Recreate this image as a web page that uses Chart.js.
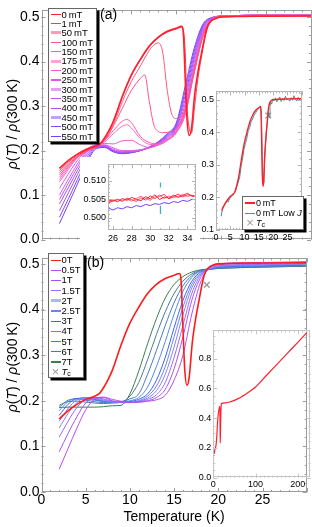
<!DOCTYPE html>
<html>
<head>
<meta charset="utf-8">
<script src="https://cdn.jsdelivr.net/npm/chart.js@4.4.1/dist/chart.umd.min.js"></script>
<style>
  body { margin: 0; background: #fff; font-family: 'Liberation Sans', Arial, sans-serif; }
  #wrap { position: relative; width: 312px; height: 527px; overflow: hidden; }
  canvas { position: absolute; }
  .leg { position: absolute; background: #fff; border: 1px solid #666; box-shadow: 2.5px 2.5px 0 #000; color: #000; box-sizing: border-box; padding-top: 1px; }
  .row { position: relative; white-space: nowrap; }
  .sw { position: absolute; left: 2px; width: 10px; }
  .lbl { position: absolute; color: #000; white-space: nowrap; }
  .ytitle { position: absolute; left: 12px; transform: translate(-50%, -50%) rotate(-90deg); font-size: 14px; white-space: nowrap; }
</style>
</head>
<body>
<div id="wrap"></div>
<script>
const FONT = "'Liberation Sans', Arial, sans-serif";

// ---- panel (a): low fields ----
const tRed = [2, 3, 4, 5, 6, 6.5, 7, 7.5, 8, 9, 10, 11, 12, 13, 14, 15, 15.6, 15.8, 16, 16.2, 16.45, 16.7, 17.05, 17.4, 17.8, 18.4, 18.8, 19.5, 20, 25, 35];
const rho0mT = [.16, .178, .192, .203, .21, .215, .228, .245, .266, .322, .37, .405, .435, .455, .468, .475, .479, .46, .36, .27, .234, .25, .326, .375, .418, .475, .49, .498, .5, .502, .503];
const rho1mT = [.155, .174, .189, .201, .209, .214, .226, .243, .264, .32, .368, .403, .433, .453, .466, .473, .477, .47, .42, .3, .25, .24, .3, .36, .41, .47, .488, .497, .5, .502, .503];
const t50 = [2, 3, 4, 5, 6, 7, 8, 9, 10, 11, 12, 12.5, 13, 13.5, 14, 14.5, 15, 15.5, 16, 17, 18, 19, 20, 25, 30];
const rho50mT = [.15, .17, .186, .198, .207, .223, .258, .31, .355, .39, .425, .437, .442, .42, .335, .282, .272, .275, .295, .375, .458, .494, .502, .504, .504];
const t100 = [2, 3, 4, 5, 6, 7, 8, 9, 10, 11, 11.5, 12, 12.5, 13, 13.5, 14, 15, 16, 17, 18, 19, 20, 25, 30];
const rho100mT = [.145, .168, .186, .199, .208, .222, .255, .295, .335, .362, .37, .31, .258, .243, .24, .241, .25, .29, .38, .46, .495, .502, .504, .504];
const t150 = [2, 3, 4, 5, 6, 7, 8, 9, 9.5, 10, 11, 12, 13, 14, 15, 16, 17, 18, 19, 20, 25, 30];
const rho150mT = [.14, .165, .186, .2, .21, .222, .245, .266, .27, .263, .232, .218, .215, .224, .241, .29, .385, .462, .495, .502, .504, .504];
const rho175mT = [.135, .162, .184, .2, .21, .219, .238, .255, .258, .251, .227, .214, .213, .223, .24, .285, .38, .46, .495, .502, .504, .504];
const tGrid = [2, 3, 4, 5, 6, 7, 8, 9, 10, 11, 12, 13, 14, 15, 16, 17, 18, 19, 20, 25, 30];
const rho200mT = [.13, .158, .185, .203, .213, .216, .215, .222, .223, .213, .207, .212, .223, .24, .28, .375, .46, .495, .502, .504, .504];
const rho250mT = [.115, .148, .178, .2, .212, .213, .206, .2, .2, .202, .206, .214, .226, .243, .285, .38, .464, .496, .502, .504, .504];
const rho300mT = [.1, .136, .17, .198, .211, .212, .203, .198, .198, .201, .206, .215, .228, .246, .295, .39, .468, .497, .502, .504, .504];
const rho350mT = [.09, .127, .163, .195, .21, .211, .201, .197, .198, .201, .207, .216, .23, .249, .305, .398, .472, .497, .502, .504, .504];
const rho400mT = [.08, .117, .155, .19, .209, .21, .2, .196, .197, .2, .207, .217, .232, .252, .315, .407, .476, .498, .502, .504, .504];
const rho450mT = [.065, .105, .146, .184, .207, .209, .199, .195, .196, .2, .207, .218, .234, .255, .325, .415, .479, .498, .502, .504, .504];
const rho500mT = [.05, .092, .135, .177, .205, .208, .198, .194, .196, .2, .208, .219, .236, .258, .335, .423, .482, .499, .502, .504, .504];
const rho550mT = [.036, .08, .125, .17, .203, .207, .197, .193, .195, .2, .208, .22, .238, .262, .345, .43, .485, .499, .502, .504, .504];
const labelsA = ['0\u2009mT', '1\u2009mT', '50\u2009mT', '100\u2009mT', '150\u2009mT', '175\u2009mT', '200\u2009mT', '250\u2009mT', '300\u2009mT', '350\u2009mT', '400\u2009mT', '450\u2009mT', '500\u2009mT', '550\u2009mT'];
const colorsA = ['#ff1f2d', '#ff3a4e', '#ff5a7c', '#ff4f96', '#ff5cae', '#ff6cc0', '#f158d2', '#e257e3', '#d25cf0', '#bf52f5', '#ab4df8', '#9a52f9', '#8545fb', '#7242fd'];

// ---- panel (b): high fields ----
const rho05T = [.05, .095, .14, .18, .203, .208, .203, .199, .197, .197, .199, .202, .212, .245, .3, .39, .46, .492, .5, .503, .505];
const rho1T = [.088, .128, .165, .195, .206, .207, .2, .197, .196, .197, .2, .207, .225, .27, .34, .42, .47, .491, .498, .501, .503];
const rho15T = [.12, .155, .185, .203, .207, .204, .199, .196, .196, .198, .203, .213, .24, .295, .365, .435, .475, .49, .496, .499, .501];
const rho2T = [.14, .172, .196, .206, .206, .202, .198, .196, .196, .199, .206, .222, .258, .318, .388, .447, .478, .489, .495, .498, .5];
const rho25T = [.155, .183, .202, .207, .205, .2, .197, .196, .197, .2, .21, .232, .275, .34, .405, .455, .48, .488, .494, .497, .499];
const rho3T = [.168, .192, .205, .206, .203, .199, .197, .196, .198, .203, .215, .245, .295, .36, .42, .462, .482, .488, .493, .496, .498];
const rho4T = [.178, .198, .205, .204, .201, .198, .196, .197, .2, .207, .23, .275, .33, .39, .44, .47, .484, .488, .492, .495, .497];
const rho5T = [.186, .201, .204, .201, .198, .196, .196, .198, .204, .215, .258, .31, .365, .415, .452, .474, .485, .488, .491, .494, .496];
const rho6T = [.19, .198, .199, .197, .195, .194, .195, .197, .21, .24, .29, .345, .395, .435, .462, .478, .486, .488, .49, .493, .495];
const rho7T = [.185, .186, .186, .186, .186, .187, .189, .19, .215, .265, .325, .38, .425, .455, .472, .482, .487, .489, .49, .493, .495];
const labelsB = ['0T', '0.5T', '1T', '1.5T', '2T', '2.5T', '3T', '4T', '5T', '6T', '7T'];
const colorsB = ['#ff1a1a', '#b94cf2', '#a553f3', '#9a6cf2', '#8a82f2', '#6a84f6', '#3f5ff0', '#4f8ae8', '#4b78bf', '#4d7b8c', '#3d7f4c'];
const tcT = [18.7];
const tcRho = [0.454];

// ---- inset: 26-35 K detail ----
const tNoise = [25.5, 26, 26.5, 27, 27.5, 28, 28.5, 29, 29.5, 30, 30.5, 31, 31.5, 32, 32.5, 33, 33.5, 34, 34.5, 35];
const noise0mT = [.5045, .5048, .5043, .5052, .5047, .5055, .505, .5046, .5057, .5051, .5062, .5049, .5056, .5053, .5061, .5055, .506, .5066, .5058, .5057];
const noise1mT = [.504, .5046, .505, .5044, .5053, .5049, .5044, .5054, .5048, .5059, .5052, .5058, .5063, .5051, .5057, .5064, .5056, .5062, .506, .5055];
const noise50mT = [.5042, .5044, .5049, .5047, .505, .5045, .5052, .5058, .5052, .5047, .5056, .5061, .5052, .5059, .5054, .5058, .5063, .5057, .5061, .5059];
const noise550mT = [.5026, .5021, .5027, .5024, .503, .5027, .5033, .503, .5036, .5033, .5038, .5036, .5041, .5038, .5044, .5041, .5047, .5044, .505, .5048];
const tcMarkT = [31.1, 31.1];
const tcMarkRho = [0.501, 0.5095];

// ---- inset: low current ----
const tLowJ = [1.8, 2.3, 2.8, 3.3, 3.8, 4.3, 4.8, 5.3, 5.8, 6.3, 6.8, 7.3, 7.8, 8.3, 8.8, 9.3, 9.8, 10.3, 10.8, 11.3, 11.8, 12.3, 12.8, 13.3, 13.8, 14.3, 14.8, 15.3, 15.6, 15.9, 16.2, 16.5, 16.8, 17.1, 17.4, 17.7, 18.0, 18.3, 18.6, 18.9, 19.2, 19.5, 19.8, 20.3, 20.8, 21.3, 21.8, 22.3, 22.8, 23.3, 23.8, 24.3, 24.8, 25.3, 25.8, 26.3, 26.8, 27.3, 27.8, 28.3, 28.8, 29.3, 29.8, 30.3, 30.8, 31.3, 31.8, 32.3];
const rhoLowJ = [.142, .168, .176, .183, .19, .186, .197, .201, .205, .213, .218, .233, .247, .262, .296, .318, .348, .365, .382, .405, .414, .432, .44, .452, .458, .466, .47, .477, .474, .44, .33, .245, .262, .33, .372, .41, .43, .462, .445, .478, .492, .486, .5, .496, .505, .493, .5, .508, .494, .503, .497, .51, .499, .502, .495, .506, .498, .512, .5, .496, .507, .499, .504, .496, .503, .498, .505, .5];
const tcInsetT = [18.3];
const tcInsetRho = [0.451];

// ---- inset: wide range ----
const tWide = [2, 4, 6, 8, 10, 12, 14, 15, 15.6, 16, 16.45, 17, 18, 19, 20, 30, 40, 50, 60, 70, 80, 90, 100, 125, 150, 175, 200, 222];
const rhoWide = [.16, .192, .21, .266, .37, .435, .468, .475, .479, .36, .234, .32, .45, .495, .5, .503, .51, .52, .533, .55, .568, .588, .61, .685, .76, .835, .91, .977];

// ---- tick labels ----
const yTicksMain = [0, 0.1, 0.2, 0.3, 0.4, 0.5];
const xTicksMain = [0, 5, 10, 15, 20, 25];
const yTicksNoise = [0.5, 0.505, 0.51];
const xTicksNoise = [26, 28, 30, 32, 34];
const yTicksLowJ = [0.1, 0.2, 0.3, 0.4, 0.5];
const xTicksLowJ = [0, 5, 10, 15, 20, 25];
const yTicksWide = [0, 0.2, 0.4, 0.6, 0.8];
const xTicksWide = [0, 100, 200];

const wrap = document.getElementById('wrap');

// frame with inward major/minor ticks on all four sides (Mathematica look)
const frameTicks = {
  id: 'frameTicks',
  beforeDraw(chart, args, o) {
    if (!o.bg) return;
    const c = chart.ctx;
    c.save();
    c.fillStyle = '#fff';
    c.fillRect(0, 0, chart.width, chart.height);
    c.restore();
  },
  afterDraw(chart, args, o) {
    const { ctx, chartArea: a, scales: { x, y } } = chart;
    ctx.save();
    ctx.strokeStyle = o.color;
    ctx.lineWidth = 1;
    ctx.beginPath();
    const marks = (axis, step, len) => {
      for (let v = Math.ceil(axis.min / step - 1e-6) * step; v <= axis.max + 1e-9; v += step) {
        const p = Math.round(axis.getPixelForValue(v)) + 0.5;
        if (axis === x) {
          ctx.moveTo(p, a.bottom); ctx.lineTo(p, a.bottom - len);
          ctx.moveTo(p, a.top); ctx.lineTo(p, a.top + len);
        } else {
          ctx.moveTo(a.left, p); ctx.lineTo(a.left + len, p);
          ctx.moveTo(a.right, p); ctx.lineTo(a.right - len, p);
        }
      }
    };
    marks(x, o.xMinor, 2); marks(x, o.xMajor, 4);
    marks(y, o.yMinor, 2); marks(y, o.yMajor, 4);
    ctx.stroke();
    ctx.strokeRect(Math.round(a.left) + 0.5, Math.round(a.top) + 0.5, Math.round(a.right - a.left) - 1, Math.round(a.bottom - a.top) - 1);
    ctx.restore();
  }
};

const pts = (xs, ys) => xs.map((v, i) => ({ x: v, y: ys[i] }));
const line = (xs, ys, color, w, extra) => Object.assign({
  data: pts(xs, ys), borderColor: color, borderWidth: w || 1, pointRadius: 0,
  cubicInterpolationMode: 'monotone', fill: false
}, extra || {});
const cross = (xs, ys) => ({
  type: 'scatter', data: pts(xs, ys), pointStyle: 'crossRot', pointRadius: 4,
  borderColor: '#9a9a9a', borderWidth: 1.3
});

function axis(o, k) {
  const list = o[k + 'Ticks'];
  return {
    type: 'linear', min: o[k + 'Min'], max: o[k + 'Max'], display: o[k + 'Show'] !== false,
    grid: { display: false, drawTicks: false }, border: { display: false },
    afterBuildTicks: s => { s.ticks = list.map(v => ({ value: v })); },
    afterFit: s => { if (k === 'x') s.height = o.xSize; else s.width = o.ySize; },
    ticks: {
      color: '#000', font: { family: FONT, size: o.font }, padding: o[k + 'Pad'],
      maxRotation: 0, autoSkip: false, callback: v => o[k + 'Fmt'](v)
    },
    title: k === 'x' && o.xTitle ? {
      display: true, text: o.xTitle, color: '#000',
      font: { family: FONT, size: 14 }, padding: { top: 0, bottom: 1 }
    } : { display: false }
  };
}

function panel(box, o) {
  const c = document.createElement('canvas');
  c.width = box.w; c.height = box.h;
  c.style.left = box.x + 'px'; c.style.top = box.y + 'px';
  wrap.appendChild(c);
  return new Chart(c, {
    type: 'line',
    data: { datasets: o.datasets },
    options: {
      responsive: false, animation: false, devicePixelRatio: 1,
      layout: { padding: o.pad },
      plugins: { legend: { display: false }, tooltip: { enabled: false }, frameTicks: o.frame },
      scales: { x: axis(o, 'x'), y: axis(o, 'y') }
    },
    plugins: [frameTicks]
  });
}

const f1 = v => v.toFixed(1);
const f0 = v => String(v);
const f3 = v => v.toFixed(3);

// panel (a)
const seriesA = [
  [tRed, rho0mT], [tRed, rho1mT], [t50, rho50mT], [t100, rho100mT], [t150, rho150mT], [t150, rho175mT],
  [tGrid, rho200mT], [tGrid, rho250mT], [tGrid, rho300mT], [tGrid, rho350mT], [tGrid, rho400mT],
  [tGrid, rho450mT], [tGrid, rho500mT], [tGrid, rho550mT]
];
panel({ x: 0, y: 0, w: 312, h: 250 }, {
  datasets: seriesA.map((s, i) => line(s[0], s[1], colorsA[i], i === 0 ? 1.6 : 1)),
  pad: { top: 3, right: 1, bottom: 4, left: 0 },
  font: 14, xShow: false, xMin: 0, xMax: 30, xTicks: xTicksMain, xFmt: f0, xPad: 0, xSize: 0,
  yMin: 0, yMax: 0.515, yTicks: yTicksMain, yFmt: f1, yPad: 2, ySize: 41.5,
  frame: { color: '#9c9c9c', xMajor: 5, xMinor: 1, yMajor: 0.1, yMinor: 0.02 }
});

// panel (b)
const seriesB = [rho0mT, rho05T, rho1T, rho15T, rho2T, rho25T, rho3T, rho4T, rho5T, rho6T, rho7T];
panel({ x: 0, y: 248, w: 312, h: 279 }, {
  datasets: seriesB.map((s, i) => line(i === 0 ? tRed : tGrid, s, colorsB[i], i === 0 ? 1.6 : 1)).concat([cross(tcT, tcRho)]),
  pad: { top: 3, right: 1, bottom: 0, left: 0 },
  font: 14, xMin: 0, xMax: 30, xTicks: xTicksMain, xFmt: f0, xPad: 0, xSize: 35, xTitle: 'Temperature (K)',
  yMin: 0, yMax: 0.512, yTicks: yTicksMain, yFmt: f1, yPad: 2, ySize: 41.5,
  frame: { color: '#9c9c9c', xMajor: 5, xMinor: 1, yMajor: 0.1, yMinor: 0.02 }
});

// inset: 26-35 K
panel({ x: 80, y: 157, w: 120, h: 86 }, {
  datasets: [
    line(tNoise, noise0mT, colorsA[0], 1, { cubicInterpolationMode: 'default', tension: 0 }),
    line(tNoise, noise1mT, colorsA[1], 1, { cubicInterpolationMode: 'default', tension: 0 }),
    line(tNoise, noise50mT, '#ff6f8a', 1, { cubicInterpolationMode: 'default', tension: 0 }),
    line(tNoise, noise550mT, colorsA[13], 1, { cubicInterpolationMode: 'default', tension: 0 }),
    line(tcMarkT, tcMarkRho, '#3cb3c4', 1.3, { borderDash: [8.5, 18] })
  ],
  pad: { top: 2, right: 4, bottom: 0, left: 0 },
  font: 9, xMin: 25.46, xMax: 34.92, xTicks: xTicksNoise, xFmt: f0, xPad: 3, xSize: 13,
  yMin: 0.4967, yMax: 0.5144, yTicks: yTicksNoise, yFmt: f3, yPad: 2, ySize: 28,
  frame: { color: '#b4b4b4', bg: true, xMajor: 2, xMinor: 1, yMajor: 0.005, yMinor: 0.001 }
});

// inset: low current
panel({ x: 197, y: 84, w: 110, h: 159 }, {
  datasets: [
    line(tRed, rho0mT, colorsA[0], 1.4),
    line(tLowJ, rhoLowJ, '#3a9c98', 1, { cubicInterpolationMode: 'default', tension: 0 }),
    cross(tcInsetT, tcInsetRho)
  ],
  pad: { top: 3, right: 0.3, bottom: 0, left: 0 },
  font: 9, xMin: 0, xMax: 30, xTicks: xTicksLowJ, xFmt: f0, xPad: 2.5, xSize: 13,
  yMin: 0.1, yMax: 0.525, yTicks: yTicksLowJ, yFmt: f1, yPad: 2, ySize: 19,
  frame: { color: '#b4b4b4', xMajor: 5, xMinor: 1, yMajor: 0.1, yMinor: 0.02 }
});

// inset: wide temperature range
panel({ x: 196, y: 323, w: 115, h: 169 }, {
  datasets: [line(tWide, rhoWide, colorsA[0], 1.2)],
  pad: { top: 4, right: 0.5, bottom: 0, left: 0 },
  font: 9, xMin: 0, xMax: 230, xTicks: xTicksWide, xFmt: f0, xPad: 1, xSize: 14.3,
  yMin: 0, yMax: 0.99, yTicks: yTicksWide, yFmt: f1, yPad: 2, ySize: 17.3,
  frame: { color: '#c4c4c4', xMajor: 100, xMinor: 10, yMajor: 0.2, yMinor: 0.05 }
});

// ---- HTML legends & labels ----
function legend(x, y, w, rowH, fs, items) {
  const box = document.createElement('div');
  box.className = 'leg';
  box.style.cssText = 'left:' + x + 'px;top:' + y + 'px;width:' + w + 'px;font-size:' + fs + 'px';
  items.forEach(it => {
    const r = document.createElement('div');
    r.className = 'row';
    r.style.height = rowH + 'px';
    r.style.lineHeight = rowH + 'px';
    r.style.paddingLeft = '13px';
    if (it.color) {
      const s = document.createElement('span');
      s.className = 'sw';
      const lw = it.lw || 1.2;
      s.style.cssText = 'top:' + (rowH / 2 - lw / 2) + 'px;height:' + lw + 'px;background:' + it.color;
      r.appendChild(s);
    } else {
      const s = document.createElement('span');
      s.className = 'sw';
      s.style.cssText = 'top:0;height:' + rowH + 'px;line-height:' + rowH + 'px;color:#9a9a9a;font-size:' + (fs + 4) + 'px;text-align:center;';
      s.textContent = '\u00d7';
      r.appendChild(s);
    }
    const t = document.createElement('span');
    t.innerHTML = it.html;
    r.appendChild(t);
    box.appendChild(r);
  });
  wrap.appendChild(box);
}

const thickA = { 2: '#ff9cb6', 5: '#ffa3d9', 8: '#dfa2f7', 11: '#bfa3fb' };
legend(47.5, 7.5, 49.5, 9.4, 9.5, labelsA.map((l, i) => ({
  html: l, color: thickA[i] || colorsA[i], lw: thickA[i] ? 3 : 1.2
})));
const tcHtml = '<i>T</i><sub style="font-size:7px;vertical-align:-1px">c</sub>';
legend(47.5, 253, 36.5, 10.2, 9.5, labelsB.map((l, i) => ({
  html: l, color: i === 4 ? '#aab8f6' : colorsB[i], lw: i === 4 ? 3 : 1.2
})).concat([{ html: tcHtml }]));
legend(242, 196, 62, 10.2, 9, [
  { html: '0\u2009mT', color: colorsA[0], lw: 1.4 },
  { html: '0\u2009mT Low <i>J</i>', color: '#3a9c98', lw: 1.2 },
  { html: tcHtml }
]);

function label(x, y, html, fs) {
  const d = document.createElement('div');
  d.className = 'lbl';
  d.style.cssText = 'left:' + x + 'px;top:' + y + 'px;font-size:' + fs + 'px';
  d.innerHTML = html;
  wrap.appendChild(d);
}
label(100, 6, '(a)', 14);
label(87, 254, '(b)', 14);

function ytitle(cy) {
  const d = document.createElement('div');
  d.className = 'ytitle';
  d.style.top = cy + 'px';
  d.innerHTML = '<i>\u03c1</i>(<i>T</i>) / <i>\u03c1</i>(300\u2009K)';
  wrap.appendChild(d);
}
ytitle(124);
ytitle(367);
</script>
</body>
</html>
